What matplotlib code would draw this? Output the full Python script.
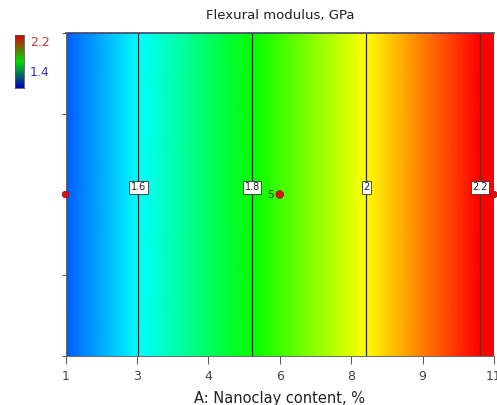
import numpy as np
import matplotlib
matplotlib.use("Agg")
import matplotlib.pyplot as plt
from matplotlib.colors import LinearSegmentedColormap

# ---- data ----
nanoclay = [1.0, 6.0, 11.0]            # design points, %
modulus = [1.472, 1.848, 2.225]        # predicted flexural modulus, GPa
contour_levels = [1.6, 1.8, 2.0, 2.2]
contour_labels = ["1.6", "1.8", "2", "2.2"]
xtick_labels = ["1", "3", "4", "6", "8", "9", "11"]
replicates = [1, 5, 1]
cbar_range = [1.4, 2.2]

fig = plt.figure(figsize=(4.97, 4.05), dpi=100)
ax = fig.add_axes([65.5 / 497, 1 - 356 / 405, (494 - 65.5) / 497, (356 - 33) / 405])

cmap = LinearSegmentedColormap.from_list(
    "de", [(0, "#0000ff"), (0.25, "#00ffff"), (0.5, "#00ff00"), (0.75, "#ffff00"), (1, "#ff0000")])

xs = np.linspace(nanoclay[0], nanoclay[-1], 400)
ys = np.linspace(-1, 1, 3)
X, Y = np.meshgrid(xs, ys)
Z = np.interp(X, nanoclay, modulus)
ax.pcolormesh(X, Y, Z, cmap=cmap, vmin=cbar_range[0], vmax=cbar_range[1], shading="gouraud")
line_colors = ["#303030", "#303030", "#303030", "#802010"]
ax.contour(X, Y, Z, levels=contour_levels, colors=line_colors, linewidths=0.9)

for lev, lab in zip(contour_levels, contour_labels):
    xl = np.interp(lev, modulus, nanoclay)
    ax.text(xl, 0.045, lab, fontsize=7, ha="center",
            va="center", color="#222222",
            bbox=dict(boxstyle="square,pad=0.15", fc="white", ec="#333333", lw=0.6),
            zorder=5)

ax.scatter(nanoclay, [0] * len(nanoclay), s=[22, 30, 22], c="#dd1111", edgecolors="#aa0000",
           linewidths=0.5, zorder=6, clip_on=False)
for xv, r in zip(nanoclay, replicates):
    if r > 1:
        ax.text(xv - 0.15, 0.0, str(r), fontsize=7.5, ha="right", va="center", color="#333333", zorder=6)

ax.set_xlim(nanoclay[0], nanoclay[-1])
ax.set_ylim(-1, 1)
ax.set_xticks(np.linspace(nanoclay[0], nanoclay[-1], len(xtick_labels)))
ax.set_xticklabels(xtick_labels, fontsize=9, color="#444444")
ax.set_yticks([-1, -0.5, 0, 0.5, 1])
ax.set_yticklabels([])
ax.tick_params(axis="x", length=6, width=0.7, color="#555555", pad=4)
ax.tick_params(axis="y", length=3, width=0.7, color="#555555")
for s in ["top", "right"]:
    ax.spines[s].set_visible(False)
for s in ["left", "bottom"]:
    ax.spines[s].set_color("#666666")
    ax.spines[s].set_linewidth(0.7)
ax.axhline(1, color="#444466", lw=1.2, zorder=7, clip_on=False)

ax.set_xlabel("A: Nanoclay content, %", fontsize=10.5, color="#222222", labelpad=6)
fig.text(280 / 497, 1 - 16 / 405, "Flexural modulus, GPa", fontsize=9.5, ha="center",
         va="center", color="#222222")

# colorbar legend
cax = fig.add_axes([15 / 497, 1 - 88 / 405, 9 / 497, 53 / 405])
grad = np.linspace(cbar_range[0], cbar_range[1], 100).reshape(-1, 1)
cax.imshow(grad, aspect="auto", cmap=LinearSegmentedColormap.from_list(
    "cb", ["#0000bb", "#00dd00", "#dd0000"]), origin="lower")
cax.set_xticks([]); cax.set_yticks([])
for s in cax.spines.values():
    s.set_color("#555555"); s.set_linewidth(0.6)
fig.text(30 / 497, 1 - 42 / 405, "2.2", fontsize=9, color="#cc3333", va="center")
fig.text(30 / 497, 1 - 73 / 405, "1.4", fontsize=9, color="#3333aa", va="center")

fig.savefig("out.png", dpi=100)
